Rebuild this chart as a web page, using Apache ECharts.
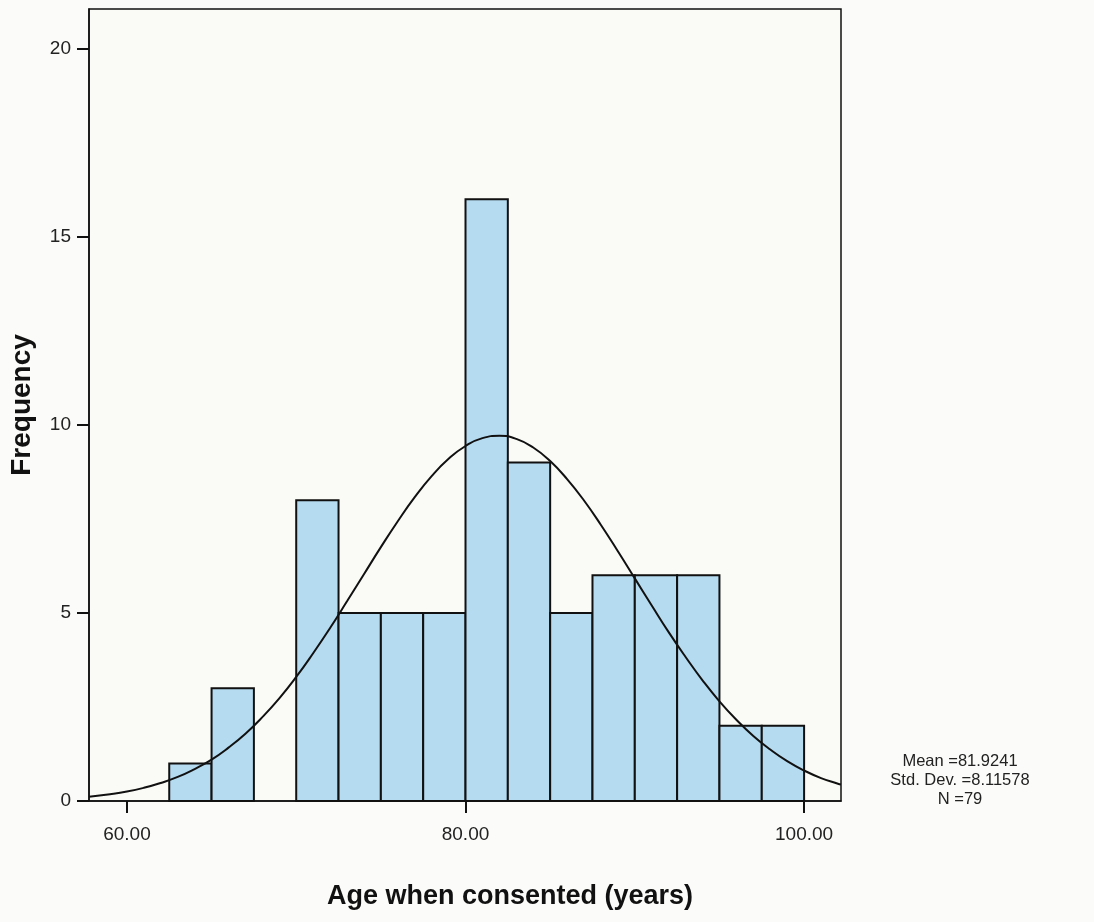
<!DOCTYPE html>
<html>
<head>
<meta charset="utf-8">
<script src="https://cdn.jsdelivr.net/npm/echarts@6/dist/echarts.min.js"></script>
<style>
html,body{margin:0;padding:0;background:#fbfbf9;}
#chart{width:1094px;height:922px;}
</style>
</head>
<body>
<div id="chart"></div>
<script>
// Histogram bins (bin start, bin end) and counts
var binStarts = [62.5, 65, 67.5, 70, 72.5, 75, 77.5, 80, 82.5, 85, 87.5, 90, 92.5, 95, 97.5];
var binEnds   = [65, 67.5, 70, 72.5, 75, 77.5, 80, 82.5, 85, 87.5, 90, 92.5, 95, 97.5, 100];
var counts    = [1, 3, 0, 8, 5, 5, 5, 16, 9, 5, 6, 6, 6, 2, 2];

// Normal curve points
var curveX = [57.76, 59, 60, 61, 62, 63, 64, 65, 66, 67, 68, 69, 70, 71, 72, 73, 74, 75, 76, 77, 78, 79, 80, 81, 82,
              83, 84, 85, 86, 87, 88, 89, 90, 91, 92, 93, 94, 95, 96, 97, 98, 99, 100, 101, 102, 102.18];
var curveY = [0.115, 0.18, 0.25, 0.35, 0.48, 0.64, 0.85, 1.10, 1.42, 1.79, 2.23, 2.73, 3.30, 3.93, 4.60, 5.31, 6.03, 6.75, 7.44, 8.08, 8.64, 9.10, 9.44, 9.65, 9.71,
              9.63, 9.40, 9.04, 8.56, 7.99, 7.34, 6.64, 5.92, 5.20, 4.49, 3.83, 3.21, 2.65, 2.16, 1.73, 1.37, 1.06, 0.81, 0.61, 0.46, 0.44];

var xTicks = [60, 80, 100];
var yTicks = [0, 5, 10, 15, 20];
var statLines = ['Mean =81.9241', 'Std. Dev. =8.11578', 'N =79'];
var xTitle = 'Age when consented (years)';

var barData = binStarts.map(function (s, i) { return [s, binEnds[i], counts[i]]; });
var lineData = curveX.map(function (x, i) { return [x, curveY[i]]; });

var chart = echarts.init(document.getElementById('chart'), null, {renderer: 'canvas'});
var font = 'Liberation Sans, Arial, sans-serif';

chart.setOption({
  backgroundColor: '#fbfbf9',
  animation: false,
  grid: {
    left: 88, right: 253, top: 9, bottom: 121,
    show: true, backgroundColor: '#fafaf6', borderColor: '#111', borderWidth: 1.5
  },
  xAxis: {
    type: 'value', min: 57.76, max: 102.18,
    axisLine: {show: true, lineStyle: {color: '#111', width: 1.5}},
    axisTick: {show: true, length: 12, lineStyle: {color: '#111', width: 2},
      customValues: xTicks},
    axisLabel: {fontFamily: font, fontSize: 19, color: '#222', margin: 24,
      customValues: xTicks,
      formatter: function (v) { return v.toFixed(2); }},
    splitLine: {show: false}
  },
  yAxis: {
    type: 'value', min: 0, max: 21.06, interval: 5,
    name: 'Frequency', nameLocation: 'middle', nameGap: 53,
    nameTextStyle: {fontFamily: font, fontSize: 28, fontWeight: 'bold', color: '#111'},
    axisLine: {show: true, lineStyle: {color: '#111', width: 1.5}},
    axisTick: {show: true, length: 12, lineStyle: {color: '#111', width: 2},
      customValues: yTicks},
    axisLabel: {fontFamily: font, fontSize: 19, color: '#222', margin: 18,
      customValues: yTicks},
    splitLine: {show: false}
  },
  series: [
    {
      type: 'custom',
      data: barData,
      encode: {x: [0, 1], y: 2},
      renderItem: function (params, api) {
        var p0 = api.coord([api.value(0), api.value(2)]);
        var p1 = api.coord([api.value(1), 0]);
        if (api.value(2) <= 0) return null;
        return {
          type: 'rect',
          shape: {x: p0[0], y: p0[1], width: p1[0] - p0[0], height: p1[1] - p0[1]},
          style: {fill: '#b5dbf1', stroke: '#111', lineWidth: 2}
        };
      },
      z: 2
    },
    {
      type: 'line',
      data: lineData,
      smooth: true,
      showSymbol: false,
      lineStyle: {color: '#111', width: 2},
      z: 3
    }
  ],
  graphic: [{
    type: 'text',
    x: 960, y: 752,
    style: {
      text: statLines.join('\n'),
      font: '16.5px ' + font,
      fill: '#222',
      align: 'center',
      verticalAlign: 'top',
      lineHeight: 19
    }
  }, {
    type: 'text',
    x: 510, y: 897,
    style: {
      text: xTitle,
      font: 'bold 27px ' + font,
      fill: '#111',
      align: 'center',
      verticalAlign: 'middle'
    }
  }]
});
</script>
</body>
</html>
